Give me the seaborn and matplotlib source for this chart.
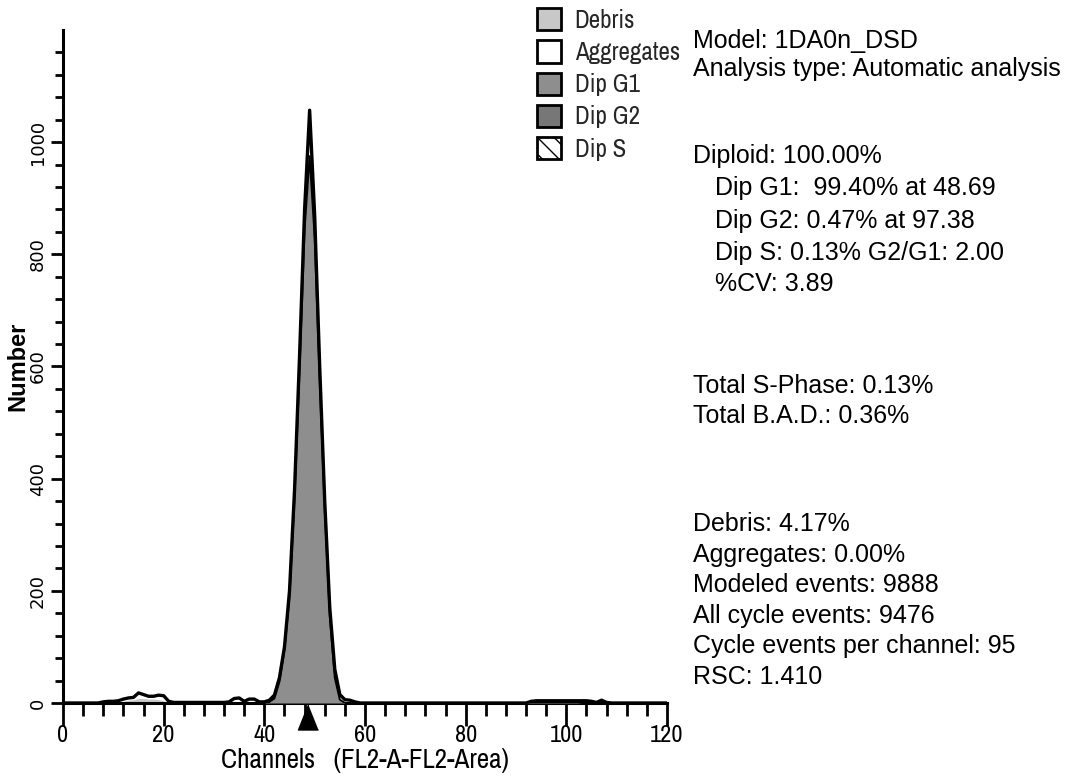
import numpy as np
import pandas as pd
import matplotlib
matplotlib.use("Agg")
import matplotlib.pyplot as plt
from matplotlib import font_manager
from matplotlib.patches import Patch
import seaborn as sns

# ---------------- data ----------------
CHANNELS = list(range(0, 121))

# measured histogram (thick outline), one value per channel 0..120
DATA = ([0] * 8 +
        [2, 3, 3, 4, 7, 9, 10, 18, 15, 12, 12, 14, 13, 3] +
        [1] * 11 +
        [2, 8, 9, 3, 7, 7, 2, 2, 5] +
        [14, 45, 100, 200, 380, 620, 880, 1057, 870, 600, 360, 170, 60, 15, 6, 5, 2] +
        [0] * 34 +
        [3, 4, 4, 4, 4, 4, 4, 4, 4, 4, 4, 4, 3, 1, 5, 1] +
        [0] * 12)
# model components
DEBRIS = ([0] * 12 + [3, 5, 6, 8, 8, 7, 7, 6, 4] + [0] * 100)
G1 = ([0] * 41 + [2, 8, 38, 95, 190, 365, 595, 845, 975, 830, 575, 345, 155, 45, 6] + [0] * 65)
G2 = ([0] * 93 + [1, 2, 3, 3, 3, 3, 3, 2, 2, 1] + [0] * 18)
DIPS = ([0] * 55 + [1] * 38 + [0] * 28)
G1_POS = 48.69

LEGEND_LABELS = ["Debris", "Aggregates", "Dip G1", "Dip G2", "Dip S"]
INFO_LINES = [
    "Model: 1DA0n_DSD", "Analysis type: Automatic analysis",
    "Diploid: 100.00%", "Dip G1:  99.40% at 48.69", "Dip G2: 0.47% at 97.38",
    "Dip S: 0.13% G2/G1: 2.00", "%CV: 3.89",
    "Total S-Phase: 0.13%", "Total B.A.D.: 0.36%",
    "Debris: 4.17%", "Aggregates: 0.00%", "Modeled events: 9888",
    "All cycle events: 9476", "Cycle events per channel: 95", "RSC: 1.410",
]
INFO_INDENT = [0, 0, 0, 1, 1, 1, 1, 0, 0, 0, 0, 0, 0, 0, 0]
INFO_BASELINE_PX = [48, 76, 163, 195, 228, 260, 291, 393, 423, 531, 562, 592, 623, 653, 684]

df = pd.DataFrame({"channel": CHANNELS, "data": DATA, "debris": DEBRIS,
                   "g1": G1, "g2": G2, "dips": DIPS})

sns.set_theme(style="ticks")
plt.rcParams["font.family"] = ["Liberation Sans", "DejaVu Sans"]

names = {f.name for f in font_manager.fontManager.ttflist}
if "Archivo Narrow" in names:
    NARROW = ["Archivo Narrow", "Liberation Sans"]
    LEG_SIZE, TICK_SIZE, XLAB_SIZE = 18, 17.5, 19.5
else:
    NARROW = ["Liberation Sans", "DejaVu Sans"]
    LEG_SIZE, TICK_SIZE, XLAB_SIZE = 14.5, 16, 17

W, H = 1071, 778
fig = plt.figure(figsize=(W / 100, H / 100), dpi=100)
ax = fig.add_axes([63 / W, 1 - 703 / H, (667 - 63) / W, (703 - 30) / H])

x = df["channel"].to_numpy()
ax.fill_between(x, 0, df["debris"], color="#c8c8c8", lw=0, zorder=2)
ax.fill_between(x, 0, df["g1"], color="#8e8e8e", lw=0, zorder=3)
ax.fill_between(x, 0, df["g2"], color="#777777", lw=0, zorder=3)
ax.fill_between(x, 0, df["dips"], facecolor="white", edgecolor="black",
                hatch="\\", lw=0, zorder=2)
sns.lineplot(data=df, x="channel", y="g1", ax=ax, color="black", lw=1.4,
             zorder=4, legend=False)
sns.lineplot(data=df, x="channel", y="data", ax=ax, color="black", lw=2.4,
             zorder=5, legend=False)
ax.plot([G1_POS], [-0.0215], transform=ax.get_xaxis_transform(),
        marker=[(0, 1), (-0.8, -1), (0.8, -1)], markersize=18,
        color="black", clip_on=False, zorder=6)

ax.set_xlim(0, 120)
ax.set_ylim(0, 1200)
ax.set_xticks(np.arange(0, 121, 20))
ax.set_xticks(np.arange(0, 121, 4), minor=True)
ax.set_yticks(np.arange(0, 1001, 200))
ax.set_yticks(np.arange(0, 1200, 40), minor=True)
sns.despine(ax=ax)
for s in ("left", "bottom"):
    ax.spines[s].set_linewidth(2.2)
    ax.spines[s].set_color("black")
ax.tick_params(axis="x", which="major", direction="out", length=16.5, width=2.0,
               pad=-1, labelsize=TICK_SIZE, colors="black")
ax.tick_params(axis="x", which="minor", direction="out", length=9.4, width=2.0, colors="black")
ax.tick_params(axis="y", which="major", direction="out", length=8.6, width=2.0,
               pad=3, labelsize=13, colors="black")
ax.tick_params(axis="y", which="minor", direction="out", length=5.8, width=2.0, colors="black")
for lab in ax.get_xticklabels():
    lab.set_family(NARROW)
for lab in ax.get_yticklabels():
    lab.set_rotation(90)
    lab.set_family("DejaVu Sans")
    lab.set_va("center")
ax.set_xlabel("Channels   (FL2-A-FL2-Area)", fontsize=XLAB_SIZE, labelpad=2,
              color="black", family=NARROW)
ax.set_ylabel("Number", fontsize=17, fontweight="bold", labelpad=0, color="black")

handles = [
    Patch(facecolor="#c8c8c8", edgecolor="black", lw=2.0),
    Patch(facecolor="white", edgecolor="black", lw=2.0),
    Patch(facecolor="#8e8e8e", edgecolor="black", lw=2.0),
    Patch(facecolor="#777777", edgecolor="black", lw=2.0),
    Patch(facecolor="white", edgecolor="black", lw=2.0, hatch="\\\\"),
]
leg = fig.legend(handles, LEGEND_LABELS, loc="upper left",
                 bbox_to_anchor=(537 / W, 1 - 8 / H), frameon=False,
                 prop={"family": NARROW, "size": LEG_SIZE},
                 handlelength=0.96, handleheight=1.0,
                 handletextpad=0.55, labelspacing=0.34, borderpad=0, borderaxespad=0)

for txt, ind, by in zip(INFO_LINES, INFO_INDENT, INFO_BASELINE_PX):
    xp = 715 if ind else 693
    fig.text(xp / W, 1 - by / H, txt, fontsize=18, ha="left", va="baseline", color="black")

fig.savefig("out.png", dpi=100, facecolor="white")
